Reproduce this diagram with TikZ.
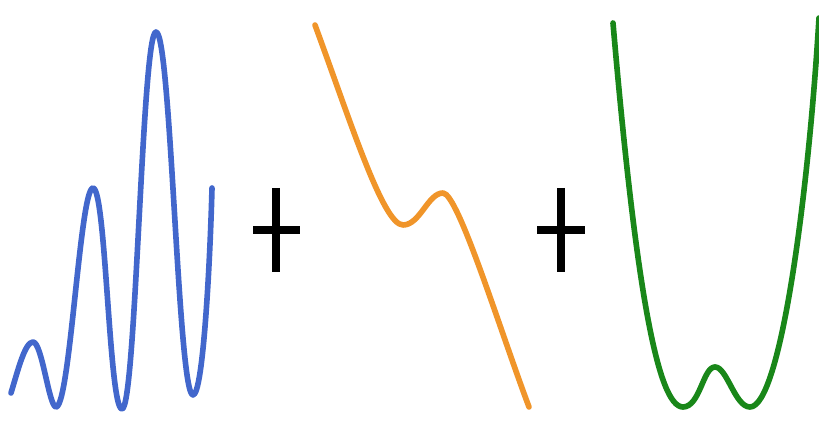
\documentclass[tikz,border=0pt]{standalone}
\definecolor{curveblue}{RGB}{66,103,204}
\definecolor{curveorange}{RGB}{240,149,42}
\definecolor{curvegreen}{RGB}{25,135,25}
\begin{document}
\begin{tikzpicture}[
  x=0.02cm, y=-0.02cm,
  curve/.style={line width=3.2pt, line cap=round, line join=round},
  plusbar/.style={line width=4pt, draw=black}
]
  \useasboundingbox (0,0) rectangle (819,421);

  % --- CURVA 1 (oscilacion creciente) ---
  \draw[curve, curveblue] (11,393)
    .. controls (18,370) and (25,342) .. (33,342)
    .. controls (42,342) and (49,407) .. (56,407)
    .. controls (70,407) and (80,188) .. (93,188)
    .. controls (106,188) and (109,409) .. (122,409)
    .. controls (136,409) and (142,32) .. (156,32)
    .. controls (171,32) and (178,395) .. (193,395)
    .. controls (203,395) and (210,265) .. (212,188);

  % Signo +
  \draw[plusbar] (253,230) -- (300,230) (276,188) -- (276,272);

  % --- CURVA 2 (cubica descendente) ---
  \draw[curve, curveorange] (315,25)
    .. controls (350,120) and (383,225) .. (403,225)
    .. controls (420,225) and (428,193) .. (443,193)
    .. controls (458,193) and (500,330) .. (529,407);

  % Signo +
  \draw[plusbar] (537,230) -- (585,230) (561,188) -- (561,272);

  % --- CURVA 3 (pozo doble) ---
  \draw[curve, curvegreen] (613,23)
    .. controls (636,290) and (658,407) .. (683,407)
    .. controls (700,407) and (703,367) .. (715,367)
    .. controls (727,367) and (735,407) .. (750,407)
    .. controls (780,407) and (808,200) .. (819,18);
\end{tikzpicture}
\end{document}
